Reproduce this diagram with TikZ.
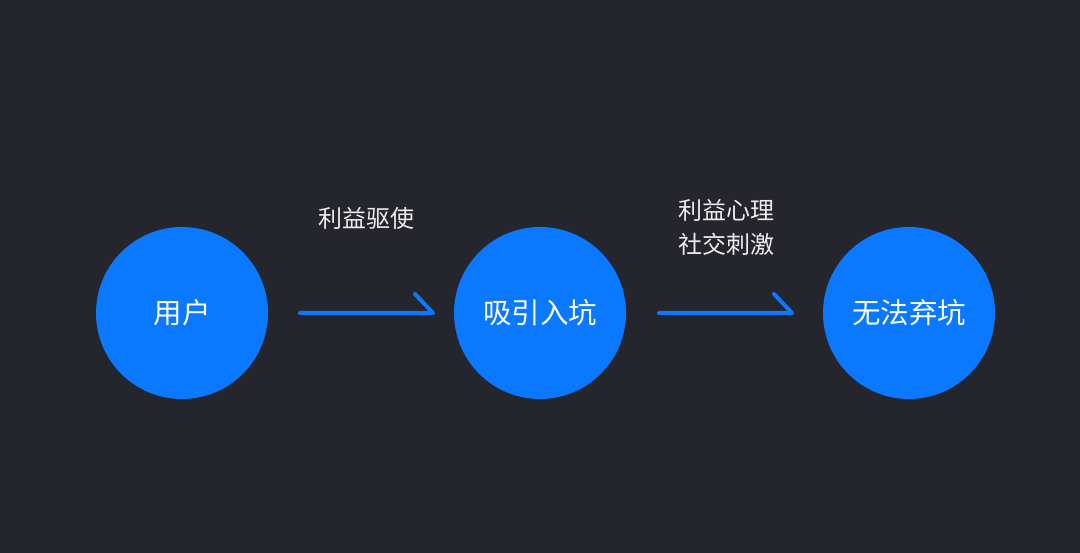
\documentclass[tikz,border=0pt]{standalone}
\usepackage{fontspec}
\newfontfamily\cjk{Noto Sans CJK SC}
\definecolor{bg}{HTML}{25252D}
\definecolor{blu}{HTML}{0A78FF}
\definecolor{lbl}{HTML}{EDEDED}
\begin{document}
\begin{tikzpicture}[x=1pt,y=-1pt,
  circ/.style={circle,fill=blu,minimum size=172pt,inner sep=0pt,text=white,font=\cjk\fontsize{28.5}{32}\selectfont},
  lab/.style={text=lbl,font=\cjk\fontsize{24}{34}\selectfont,align=center,inner sep=0pt},
  conn/.style={draw=blu,line width=4pt,line cap=round,line join=round}]
\fill[bg] (0,0) rectangle (1080,553);
\useasboundingbox (0,0) rectangle (1080,553);
\node[circ] (u) at (182,313) {用户};
\node[circ] (x) at (540,313) {吸引入坑};
\node[circ] (w) at (909,313) {无法弃坑};
\coordinate (a1s) at (300,313);
\coordinate (a1e) at (433,313);
\coordinate (a1t) at (415,294);
\coordinate (a2s) at (659,313);
\coordinate (a2e) at (792,313);
\coordinate (a2t) at (774,294);
\draw[conn] (a1s) -- (a1e) -- (a1t);
\draw[conn] (a2s) -- (a2e) -- (a2t);
\node[lab] (l1) at (366,218) {利益驱使};
\node[lab] (l2) at (726,227) {利益心理\\社交刺激};
\end{tikzpicture}
\end{document}
